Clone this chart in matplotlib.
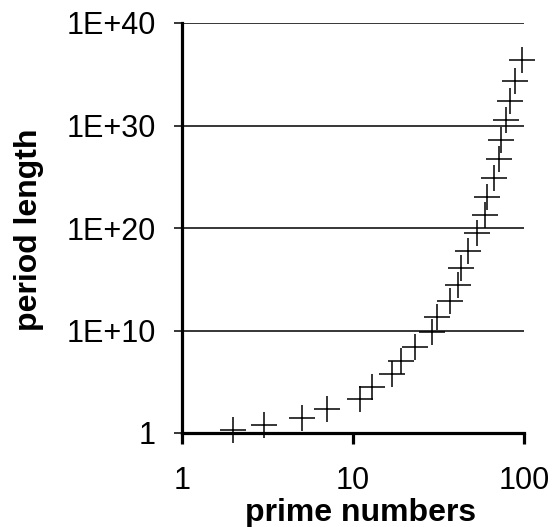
import matplotlib
matplotlib.use("Agg")
import matplotlib.pyplot as plt
from matplotlib.ticker import FixedLocator, NullLocator

primes = [2, 3, 5, 7, 11, 13, 17, 19, 23, 29, 31, 37, 41, 43, 47,
          53, 59, 61, 67, 71, 73, 79, 83, 89, 97]
period_length = [2, 6, 30, 210, 2310, 30030, 510510, 9.70e6, 2.23e8, 6.47e9,
                 2.01e11, 7.42e12, 3.04e14, 1.31e16, 6.15e17, 3.26e19, 1.92e21,
                 1.17e23, 7.86e24, 5.58e26, 4.07e28, 3.22e30, 2.67e32, 2.38e34,
                 2.31e36]

x_ticks = [1, 10, 100]
x_tick_labels = ["1", "10", "100"]
y_ticks = [1, 1e10, 1e20, 1e30, 1e40]
y_tick_labels = ["1", "1E+10", "1E+20", "1E+30", "1E+40"]

plt.rcParams['font.family'] = ['Liberation Sans', 'DejaVu Sans']

fig = plt.figure(figsize=(5.52, 5.27), dpi=100)
ax = fig.add_axes([182/552, 1-433/527, (524-182)/552, (433-23)/527])

ax.set_xscale('log')
ax.set_yscale('log')
ax.set_xlim(1, 100)
ax.set_ylim(1, 1e40)

ax.plot(primes, period_length, linestyle='none', marker='+', markersize=18.5,
        markeredgewidth=1.1, color='black', zorder=3, clip_on=False)

ax.xaxis.set_major_locator(FixedLocator(x_ticks))
ax.xaxis.set_minor_locator(NullLocator())
ax.set_xticklabels(x_tick_labels)
ax.yaxis.set_major_locator(FixedLocator(y_ticks))
ax.yaxis.set_minor_locator(NullLocator())
ax.set_yticklabels(y_tick_labels)

ax.grid(axis='y', color='black', linewidth=1.1)
ax.set_axisbelow(True)

for s in ['top', 'right']:
    ax.spines[s].set_visible(False)
for s in ['left', 'bottom']:
    ax.spines[s].set_linewidth(2.3)
    ax.spines[s].set_color('black')

ax.tick_params(axis='y', direction='out', length=6, width=1.1, pad=13,
               labelsize=22, colors='black')
ax.tick_params(axis='x', direction='out', length=8, width=2.3, pad=16,
               labelsize=22, colors='black')

ax.set_xlabel('prime numbers', fontsize=23, fontweight='bold')
ax.set_ylabel('period length', fontsize=23, fontweight='bold')
ax.xaxis.set_label_coords((361-182)/342, -(513-433)/410, transform=ax.transAxes)
ax.yaxis.set_label_coords(-(182-29)/342, (433-230)/410, transform=ax.transAxes)
ax.xaxis.label.set_va('center')
ax.yaxis.label.set_va('center')

fig.savefig('out.png', dpi=100)
